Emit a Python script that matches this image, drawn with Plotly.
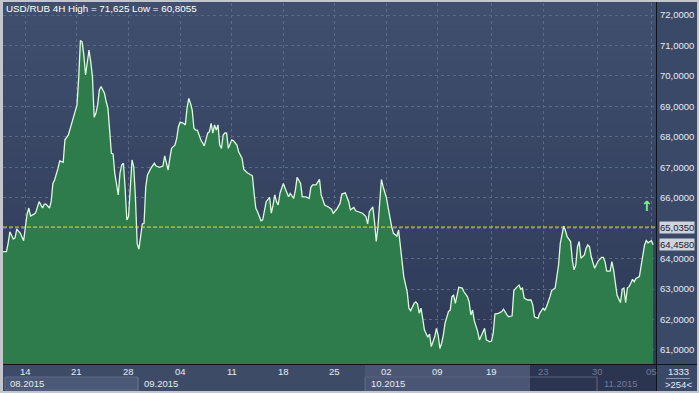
import plotly.graph_objects as go

# ---- data (bar index of 4H bars, close price) ----
bars = [0,2,3,4,6,7,8,10,12,13,14,15,16,18,19,21,23,24,25,27,28,29,30,32,33,35,36,38,40,41,43,44,45,46,47,48,49,50,51,52,53,54,55,56,57,59,60,61,62,63,64,65,67,68,69,70,71,72,73,74,75,76,77,78,79,80,81,82,83,84,86,88,89,91,93,94,95,96,97,98,100,101,102,103,105,106,107,108,109,110,111,112,113,114,115,117,118,119,120,121,122,123,124,125,126,127,128,129,130,131,133,134,136,137,139,140,142,144,145,146,147,148,150,151,152,153,155,156,157,158,159,160,161,163,164,166,167,169,170,171,173,174,176,178,179,180,182,184,185,187,189,191,192,194,196,197,199,201,202,204,205,207,209,211,212,213,215,216,217,218,219,220,221,222,223,224,225,226,227,229,230,231,232,233,235,236,237,239,240,241,242,243,244,245,247,248,249,251,252,253,254,255,256,257,259,260,261,262,263,264,265,267,268,270,271,272,273,274,276,277,278,280,281,283,284,285,286,288,290,291,293,294,296,297,299,300,301,302,303,305,307,308,309,311,312,314,315,316,318,319,321,323,324,326,327,328,330,331,332,333,334,335,336,338,339,340,341,342,344,345,346,348,349,350,351,353,354,355,356,357,359,360,361,362,363,364,365,366,367,368,370,371,373,374,375,377,378]
prices = [64.23,64.23,64.51,64.88,64.64,64.68,64.97,64.84,64.59,65.05,65.46,65.66,65.40,65.46,65.51,65.87,65.66,65.79,65.79,65.66,65.87,66.47,66.58,66.97,67.21,67.16,67.90,68.06,68.44,68.66,69.04,69.92,71.16,71.12,70.69,70.03,70.47,70.85,70.47,69.97,68.64,68.77,69.04,69.54,69.65,69.43,69.15,68.94,68.22,67.46,67.44,66.80,66.09,66.80,67.07,67.13,66.31,65.27,65.38,66.36,67.24,67.02,66.00,64.50,64.31,64.72,65.14,65.16,66.36,66.75,66.97,67.13,67.04,67.00,67.04,67.37,67.13,66.91,67.29,67.62,67.73,67.95,68.33,68.48,68.44,68.39,68.94,69.26,69.10,68.88,68.28,68.22,68.22,68.06,67.90,67.70,67.95,68.12,68.17,68.44,68.12,68.39,68.22,68.39,67.73,67.62,68.06,68.13,68.12,67.62,67.90,67.87,67.73,67.51,67.29,66.93,66.82,66.75,66.72,66.14,65.65,65.54,65.24,65.27,65.60,65.87,66.01,65.49,65.76,66.09,65.87,65.76,66.14,66.47,66.31,66.03,66.14,65.98,66.25,66.67,66.47,66.03,66.03,65.98,66.34,66.42,66.42,66.60,66.09,65.76,65.70,65.62,65.49,65.62,65.82,66.12,66.16,65.87,65.60,65.68,65.57,65.54,65.49,65.38,65.14,65.54,65.70,65.21,64.56,65.05,65.98,66.60,66.36,66.14,65.98,65.65,65.27,65.04,64.83,64.74,64.94,64.39,63.90,63.41,62.91,62.37,62.29,62.53,62.58,62.51,62.20,62.37,62.04,61.66,61.42,61.52,61.11,61.44,61.71,61.49,61.05,61.22,61.49,61.88,62.26,62.31,62.75,62.80,62.53,62.80,63.06,63.03,62.91,62.75,62.58,62.15,62.31,61.96,61.60,61.33,61.46,61.71,61.33,61.27,61.29,61.55,62.18,62.20,62.26,62.34,62.15,62.09,62.12,62.95,63.08,63.13,62.99,63.03,62.70,62.64,62.64,62.48,62.09,62.04,62.20,62.37,62.31,62.42,62.75,62.95,63.03,63.79,64.50,65.07,64.92,64.72,64.56,63.95,63.63,63.79,64.39,64.56,64.01,64.12,64.34,64.45,64.39,64.06,63.68,63.79,63.92,64.04,64.04,63.90,63.59,63.59,63.90,63.63,63.19,62.80,62.55,63.00,63.03,62.55,63.03,63.08,63.19,63.32,63.24,63.35,63.41,63.79,64.45,64.59,64.52,64.59,64.458]

y_ticks = [61, 62, 63, 64, 65, 66, 67, 68, 69, 70, 71, 72]
y_ticktext = ["61,0000", "62,0000", "63,0000", "64,0000", "65,0000", "66,0000",
              "67,0000", "68,0000", "69,0000", "70,0000", "71,0000", "72,0000"]
day_ticks = [13, 43, 73, 103, 133, 163, 193, 223, 252.5, 284, 314, 345.5, 377]
day_labels = ["14", "21", "28", "04", "11", "18", "25", "02", "09", "19", "23", "30", "05"]
month_pos = [3, 81, 213, 348.5]
month_labels = ["08.2015", "09.2015", "10.2015", "11.2015"]
ref_level = 65.035
ref_label = "65,0350"
last_label = "64,4580"
signal_bar, signal_price = 374.5, 65.73
title_text = "USD/RUB 4H High = 71,625 Low = 60,8055"
bar_count, visible_count = "1333", ">254<"

W, H = 699, 393
L, R, T, B = 3, 656, 3, 364   # plot area in pixels


def xp(p):
    return (p - L) / (R - L)


def yp(q):
    return (B - q) / (B - T)


FONT = "Liberation Sans, Arial, sans-serif"
TXT = "#e6ebf3"
DIM = "#6d7b98"
FS = 9.5

fig = go.Figure()
fig.add_trace(go.Scatter(
    x=bars, y=prices, mode="lines", fill="tozeroy",
    fillcolor="#2e7c4c", line=dict(color="#dcfadc", width=1.3),
    hoverinfo="skip", showlegend=False))

shapes = []
# outer frame
shapes.append(dict(type="rect", xref="paper", yref="paper", x0=xp(3), x1=xp(697),
                   y0=yp(391), y1=yp(2), fillcolor="#3b4969", line=dict(width=0), layer="below"))
# vertical gradient of plot background
N = 30
c0, c1 = (64, 79, 110), (45, 57, 87)
for i in range(N):
    t = i / (N - 1)
    col = "rgb(%d,%d,%d)" % tuple(round(a + (b - a) * t) for a, b in zip(c0, c1))
    q0 = T + (B - T) * i / N
    q1 = T + (B - T) * (i + 1) / N
    shapes.append(dict(type="rect", xref="paper", yref="paper", x0=0, x1=1,
                       y0=yp(q1), y1=yp(q0) + 0.002, fillcolor=col, line=dict(width=0), layer="below"))
# bottom axis band
shapes.append(dict(type="rect", xref="paper", yref="paper", x0=xp(3), x1=xp(656),
                   y0=yp(391), y1=yp(364), fillcolor="#3e4b67", line=dict(width=0), layer="below"))
shapes.append(dict(type="rect", xref="paper", yref="paper", x0=xp(365), x1=xp(530),
                   y0=yp(391), y1=yp(365), fillcolor="#4a5673", line=dict(width=0), layer="below"))
shapes.append(dict(type="rect", xref="paper", yref="paper", x0=xp(530), x1=xp(656),
                   y0=yp(391), y1=yp(365), fillcolor="#2b3550", line=dict(width=0), layer="below"))
shapes.append(dict(type="rect", xref="paper", yref="paper", x0=xp(5), x1=xp(138),
                   y0=yp(390), y1=yp(377), fillcolor="#4b5876", line=dict(color="#5e6b88", width=1), layer="below"))
for p in (138, 365, 597):
    shapes.append(dict(type="line", xref="paper", yref="paper", x0=xp(p), x1=xp(p),
                       y0=yp(391), y1=yp(377), line=dict(color="#5e6b88", width=1), layer="below"))
shapes.append(dict(type="line", xref="paper", yref="paper", x0=xp(365), x1=xp(597),
                   y0=yp(377), y1=yp(377), line=dict(color="#56627e", width=1), layer="below"))
# separators
shapes.append(dict(type="line", xref="paper", yref="paper", x0=xp(3), x1=xp(697),
                   y0=yp(364.5), y1=yp(364.5), line=dict(color="#0e131c", width=1)))
shapes.append(dict(type="line", xref="paper", yref="paper", x0=xp(656.5), x1=xp(656.5),
                   y0=yp(391), y1=yp(2), line=dict(color="#0e131c", width=1)))
shapes.append(dict(type="line", xref="paper", yref="paper", x0=xp(666), x1=xp(690),
                   y0=yp(378.5), y1=yp(378.5), line=dict(color="#8e9ab2", width=1)))
# reference level
shapes.append(dict(type="line", xref="paper", yref="y", x0=0, x1=1, y0=ref_level, y1=ref_level,
                   line=dict(color="#e6e600", width=1, dash="4px,2px")))
fig.update_layout(shapes=shapes)

ann = []
ann.append(dict(xref="paper", yref="paper", x=xp(4), y=yp(9), text=title_text, showarrow=False,
                xanchor="left", yanchor="middle", font=dict(family=FONT, size=9.8, color="#ffffff")))
for b, lab, i in zip(day_ticks, day_labels, range(len(day_labels))):
    ann.append(dict(xref="x", yref="paper", x=b, y=yp(371), text=lab, showarrow=False,
                    xanchor="center", yanchor="middle",
                    font=dict(family=FONT, size=FS, color=TXT if i < 10 else DIM)))
for b, lab, i in zip(month_pos, month_labels, range(4)):
    ann.append(dict(xref="x", yref="paper", x=b, y=yp(384), text=lab, showarrow=False,
                    xanchor="left", yanchor="middle",
                    font=dict(family=FONT, size=FS, color=TXT if i < 3 else DIM)))
for val, lab in ((ref_level, ref_label), (prices[-1], last_label)):
    ann.append(dict(xref="paper", yref="y", x=xp(659), y=val, text=lab, showarrow=False,
                    xanchor="left", yanchor="middle", bgcolor="#cfd3da", borderpad=0,
                    font=dict(family=FONT, size=FS, color="#14213a")))
ann.append(dict(xref="paper", yref="paper", x=xp(678), y=yp(371.5), text=bar_count, showarrow=False,
                xanchor="center", yanchor="middle", font=dict(family=FONT, size=FS, color=TXT)))
ann.append(dict(xref="paper", yref="paper", x=xp(678), y=yp(384.5), text=visible_count, showarrow=False,
                xanchor="center", yanchor="middle", font=dict(family=FONT, size=FS, color=TXT)))
# buy signal arrow
ann.append(dict(xref="x", yref="y", x=signal_bar, y=signal_price, text="<b>↑</b>", showarrow=False,
                xanchor="center", yanchor="middle",
                font=dict(family="DejaVu Sans", size=14, color="#86f286")))
fig.update_layout(annotations=ann)

fig.update_layout(
    width=W, height=H,
    margin=dict(l=L, r=W - R, t=T, b=H - B, pad=0),
    paper_bgcolor="#c3c6cc",
    plot_bgcolor="rgba(0,0,0,0)",
    showlegend=False,
    xaxis=dict(range=[0, (R - L) * 0.5814], tickvals=day_ticks, showticklabels=False,
               showgrid=True, gridcolor="#5a6987", griddash="3px,3px", gridwidth=1,
               zeroline=False, showline=False, ticks="", fixedrange=True),
    yaxis=dict(range=[72 - (B - 15) / 30.45, 72 + (15 - T) / 30.45], side="right",
               tickvals=y_ticks, ticktext=y_ticktext, showgrid=True, gridcolor="#5a6987",
               griddash="3px,3px", gridwidth=1, zeroline=False, showline=False, ticks="",
               ticklabelstandoff=3, automargin=False,
               tickfont=dict(family=FONT, size=FS, color=TXT), fixedrange=True),
)

fig.write_html("out.html", config={"displayModeBar": False},
               post_script="document.body.style.margin='0';document.body.style.overflow='hidden';")
